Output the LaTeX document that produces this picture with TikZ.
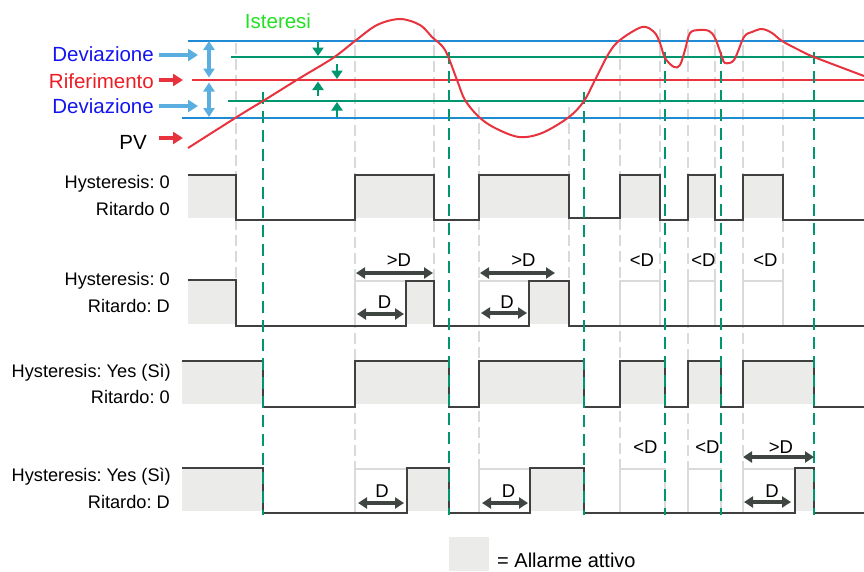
\documentclass[tikz,border=0pt]{standalone}
\usepackage{fontspec}
\setmainfont{Liberation Sans}
\usetikzlibrary{arrows.meta}
\definecolor{bl}{HTML}{1E8BD4}
\definecolor{lbl}{HTML}{5BAEE0}
\definecolor{tl}{HTML}{00966E}
\definecolor{rd}{HTML}{E8333F}
\definecolor{gf}{HTML}{EBEBEA}
\definecolor{wv}{HTML}{404040}
\definecolor{ar}{HTML}{3F4540}
\definecolor{gd}{HTML}{D9D9D9}
\definecolor{ob}{HTML}{DADADA}
\definecolor{txb}{HTML}{1414F0}
\definecolor{txr}{HTML}{EE1C25}
\definecolor{isg}{HTML}{22E022}
\begin{document}
\frenchspacing
\begin{tikzpicture}[x=1pt,y=-1pt,
  lab/.style={font=\fontsize{18.2}{21}\selectfont, inner sep=0pt},
  big/.style={font=\fontsize{20.5}{24}\selectfont, inner sep=0pt},
  dl/.style={font=\fontsize{18.5}{22}\selectfont, inner sep=0pt, anchor=base},
  thrb/.style={bl, line width=2pt},
  thrg/.style={tl, line width=2pt},
  thrr/.style={rd, line width=2pt},
  gdash/.style={gd, line width=2pt, dash pattern=on 11pt off 5pt},
  tdash/.style={tl, line width=2.5pt, dash pattern=on 12pt off 7pt},
  wave/.style={wv, line width=2pt, line join=miter},
  outl/.style={ob, line width=1.5pt},
  lbarr/.style={lbl, line width=3.2pt, arrows={-Triangle[width=12pt,length=10pt]}},
  lbdarr/.style={lbl, line width=3.2pt, arrows={Triangle[width=11pt,length=9pt]-Triangle[width=11pt,length=9pt]}},
  rarr/.style={rd, line width=3.2pt, arrows={-Triangle[width=12pt,length=10pt]}},
  tarr/.style={tl, line width=2.4pt, arrows={-Triangle[width=11pt,length=8.5pt]}},
  darr/.style={ar, line width=3.4pt, arrows={Triangle[width=11pt,length=9pt]-Triangle[width=11pt,length=9pt]}}
]
\useasboundingbox (0,0) rectangle (864,571);

% ---------- fills ----------
\fill[gf] (188,175) rectangle (236,218);
\fill[gf] (355,175) rectangle (434,218);
\fill[gf] (479,175) rectangle (569,218);
\fill[gf] (620,175) rectangle (660,218);
\fill[gf] (688,175) rectangle (715,218);
\fill[gf] (743,175) rectangle (783,218);

\fill[gf] (188,280) rectangle (236,324);
\fill[gf] (406,280) rectangle (434,324);
\fill[gf] (529,280) rectangle (569,324);

\fill[gf] (182,361) rectangle (263,404);
\fill[gf] (355,361) rectangle (449,404);
\fill[gf] (479,361) rectangle (584,404);
\fill[gf] (620,361) rectangle (665,404);
\fill[gf] (688,361) rectangle (721,404);
\fill[gf] (743,361) rectangle (814,404);

\fill[gf] (182,468) rectangle (263,511);
\fill[gf] (407,468) rectangle (449,511);
\fill[gf] (530,468) rectangle (584,511);
\fill[gf] (795,468) rectangle (814,511);

% ---------- light outline boxes ----------
\draw[outl] (355,326) -- (355,281) -- (406,281);
\draw[outl] (479,326) -- (479,281) -- (529,281);
\draw[outl] (620,326) rectangle (660,281);
\draw[outl] (688,326) rectangle (715,281);
\draw[outl] (743,326) rectangle (783,281);

\draw[outl] (355,513) -- (355,469) -- (407,469);
\draw[outl] (479,513) -- (479,469) -- (530,469);
\draw[outl] (620,513) rectangle (665,469);
\draw[outl] (688,513) rectangle (721,469);
\draw[outl] (743,513) -- (743,469) -- (795,469);

% ---------- gray dashed verticals ----------
\foreach \x/\s in {236/43, 434/29, 569/107, 660/29, 715/29, 783/29}
  \draw[gdash] (\x,\s) -- (\x,326);
\foreach \x/\s in {355/29, 479/107, 620/43, 688/29, 743/29}
  \draw[gdash] (\x,\s) -- (\x,468);

% ---------- threshold lines ----------
\draw[thrb] (188,40.5) -- (864,40.5);
\draw[thrg] (231,56.5) -- (864,56.5);
\draw[thrr] (192,80) -- (864,80);
\draw[thrg] (228,101) -- (864,101);
\draw[thrb] (182,117.5) -- (864,117.5);

% ---------- waveforms ----------
\draw[wave] (188,175) -- (236,175) -- (236,220) -- (355,220) -- (355,175) -- (434,175) -- (434,220) -- (479,220) -- (479,175) -- (569,175) -- (569,218) -- (620,218) -- (620,175) -- (660,175) -- (660,220) -- (688,220) -- (688,175) -- (715,175) -- (715,220) -- (743,220) -- (743,175) -- (783,175) -- (783,220) -- (864,220);

\draw[wave] (188,280) -- (236,280) -- (236,326) -- (406,326) -- (406,281) -- (434,281) -- (434,326) -- (529,326) -- (529,281) -- (569,281) -- (569,326) -- (864,326);

\draw[wave] (182,361) -- (263,361) -- (263,407) -- (355,407) -- (355,361) -- (449,361) -- (449,407) -- (479,407) -- (479,361) -- (584,361) -- (584,407) -- (620,407) -- (620,361) -- (665,361) -- (665,407) -- (688,407) -- (688,361) -- (721,361) -- (721,407) -- (743,407) -- (743,361) -- (814,361) -- (814,407) -- (864,407);

\draw[wave] (182,468) -- (263,468) -- (263,513) -- (407,513) -- (407,468) -- (449,468) -- (449,513) -- (530,513) -- (530,468) -- (584,468) -- (584,513) -- (795,513) -- (795,468) -- (814,468) -- (814,513) -- (864,513);

% ---------- teal dashed verticals ----------
\foreach \x/\s in {263/92, 449/52, 584/92, 665/52, 721/52, 814/52}
  \draw[tdash] (\x,\s) -- (\x,515);

% ---------- PV curve ----------
\draw[rd, line width=2pt] plot[smooth, tension=0.55] coordinates {
 (188,148) (240,115) (263,101) (300,78) (333,58) (355,41) (377,25) (400,19) (420,25) (432,37) (445,50)
 (457,80) (465,100) (479,117) (495,128) (519,137) (542,133) (569,117) (584,101) (595,80) (609,53)
 (620,40) (642,27) (654,32) (660,43) (665,58) (674,67) (680,65) (685,50) (690,33) (699,30) (709,31)
 (715,38) (722,57) (725,63) (734,60) (744,37) (752,32) (762,29) (772,33) (782,41) (799,50) (814,57) (864,76)};

% ---------- top-left labels & arrows ----------
\node[big, anchor=base, text=isg] (ist) at (278,28.5) {Isteresi};
\node[big, anchor=base east, text=txb] (dev1) at (154,61) {Deviazione};
\node[big, anchor=base east, text=txr] (rif) at (154,88) {Riferimento};
\node[big, anchor=base east, text=txb] (dev2) at (154,113) {Deviazione};
\node[big, anchor=base east] (pv) at (147,149) {PV};

\coordinate (d1a) at (159,55); \coordinate (d1b) at (198,55);
\coordinate (d2a) at (159,106); \coordinate (d2b) at (198,106);
\coordinate (ra) at (159,80); \coordinate (rb) at (183,80);
\coordinate (pa) at (159,138); \coordinate (pb) at (183,138);
\draw[lbarr] (d1a) -- (d1b);
\draw[lbarr] (d2a) -- (d2b);
\draw[rarr] (ra) -- (rb);
\draw[rarr] (pa) -- (pb);

\coordinate (vA) at (209,41); \coordinate (vM1) at (209,77.5);
\coordinate (vM2) at (209,82.5); \coordinate (vB) at (209,117);
\draw[lbdarr] (vA) -- (vM1);
\draw[lbdarr] (vM2) -- (vB);

\coordinate (h1a) at (318,42); \coordinate (h1b) at (318,56);
\coordinate (h2a) at (337,64); \coordinate (h2b) at (337,79);
\coordinate (h3a) at (318,96); \coordinate (h3b) at (318,81.5);
\coordinate (h4a) at (337,117); \coordinate (h4b) at (337,102);
\draw[tarr] (h1a) -- (h1b);
\draw[tarr] (h2a) -- (h2b);
\draw[tarr] (h3a) -- (h3b);
\draw[tarr] (h4a) -- (h4b);

% ---------- row labels ----------
\node[lab, anchor=base east] (r1a) at (170,188) {Hysteresis: 0};
\node[lab, anchor=base east] (r1b) at (170,215) {Ritardo 0};
\node[lab, anchor=base east] (r2a) at (170,285.5) {Hysteresis: 0};
\node[lab, anchor=base east] (r2b) at (170,312.5) {Ritardo: D};
\node[lab, anchor=base east] (r3a) at (171,377) {Hysteresis: Yes (Sì)};
\node[lab, anchor=base east] (r3b) at (170,403) {Ritardo: 0};
\node[lab, anchor=base east] (r4a) at (171,481) {Hysteresis: Yes (Sì)};
\node[lab, anchor=base east] (r4b) at (170,508) {Ritardo: D};

% ---------- delay arrows & labels, row 2 ----------
\coordinate (a1l) at (356,273); \coordinate (a1r) at (433,273);
\coordinate (a2l) at (357,314); \coordinate (a2r) at (404,314);
\coordinate (a3l) at (480,273); \coordinate (a3r) at (555,273);
\coordinate (a4l) at (481,313); \coordinate (a4r) at (527,313);
\draw[darr] (a1l) -- (a1r);
\draw[darr] (a2l) -- (a2r);
\draw[darr] (a3l) -- (a3r);
\draw[darr] (a4l) -- (a4r);
\node[dl] (g1) at (399,266) {>D};
\node[dl] (g2) at (384.5,308.5) {D};
\node[dl] (g3) at (523.5,266) {>D};
\node[dl] (g4) at (507,308.5) {D};
\node[dl] (l1) at (642,266) {<D};
\node[dl] (l2) at (703.5,266) {<D};
\node[dl] (l3) at (765.5,266) {<D};

% ---------- delay arrows & labels, row 4 ----------
\coordinate (b1l) at (358,503); \coordinate (b1r) at (404,503);
\coordinate (b2l) at (482,503); \coordinate (b2r) at (528,503);
\coordinate (b3l) at (744,502); \coordinate (b3r) at (791,502);
\coordinate (b4l) at (743,457); \coordinate (b4r) at (814,457);
\draw[darr] (b1l) -- (b1r);
\draw[darr] (b2l) -- (b2r);
\draw[darr] (b3l) -- (b3r);
\draw[darr] (b4l) -- (b4r);
\node[dl] (k1) at (382,497.5) {D};
\node[dl] (k2) at (508.5,497.5) {D};
\node[dl] (k3) at (772,497.5) {D};
\node[dl] (k4) at (781,453) {>D};
\node[dl] (m1) at (645.5,453) {<D};
\node[dl] (m2) at (707.5,453) {<D};

% ---------- legend ----------
\fill[gf] (449,537) rectangle (489,571);
\node[font=\fontsize{20}{24}\selectfont, inner sep=0pt, anchor=base west] (leg) at (497,567) {= Allarme attivo};
\end{tikzpicture}
\end{document}
